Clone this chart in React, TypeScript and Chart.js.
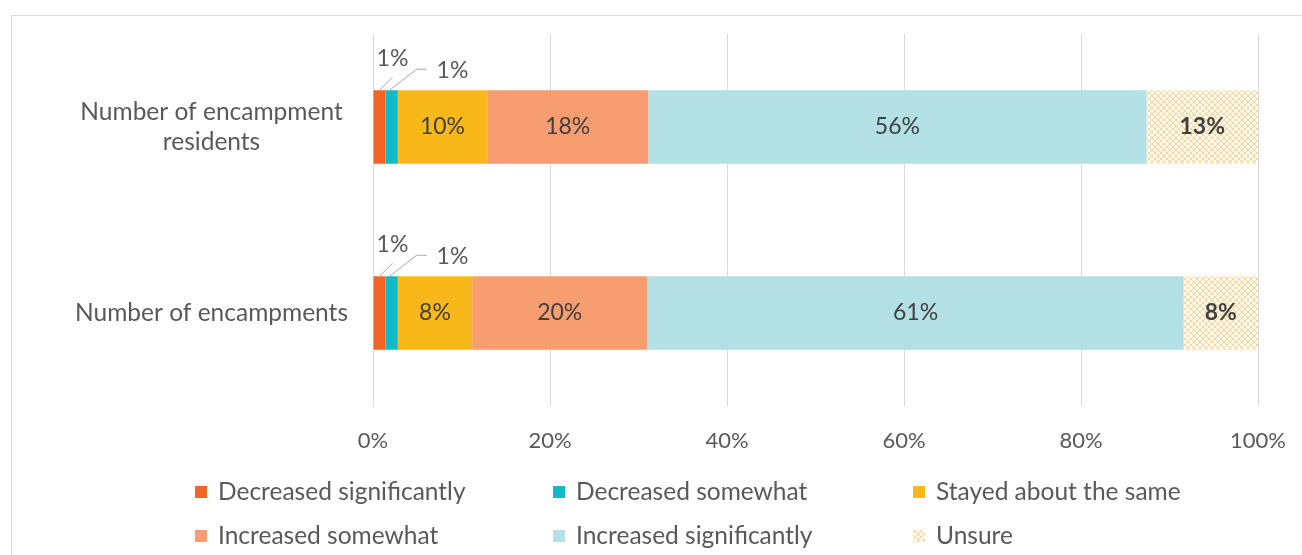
import React, { useEffect, useRef } from "react";
import { Chart, registerables } from "chart.js";

Chart.register(...registerables);

const categories: (string | string[])[] = [["Number of encampment", "residents"], "Number of encampments"];
const seriesNames = [
  "Decreased significantly",
  "Decreased somewhat",
  "Stayed about the same",
  "Increased somewhat",
  "Increased significantly",
  "Unsure",
];
const decreasedSignificantly = [1.4, 1.4];
const decreasedSomewhat = [1.4, 1.4];
const stayedSame = [10.1, 8.4];
const increasedSomewhat = [18.2, 19.8];
const increasedSignificantly = [56.3, 60.6];
const unsure = [12.6, 8.4];
const xTicks = [0, 20, 40, 60, 80, 100];

const FONT = "Lato, 'Open Sans', sans-serif";
const TEXT = "#595959";

function makePattern(): CanvasPattern | string {
  const c = document.createElement("canvas");
  c.width = 6;
  c.height = 6;
  const g = c.getContext("2d");
  if (!g) return "#FCE3B8";
  g.fillStyle = "#FFFAF0";
  g.fillRect(0, 0, 6, 6);
  g.strokeStyle = "#FAD596";
  g.lineWidth = 1;
  g.beginPath();
  g.moveTo(0, 0);
  g.lineTo(6, 6);
  g.moveTo(6, 0);
  g.lineTo(0, 6);
  g.stroke();
  const p = g.createPattern(c, "repeat");
  return p || "#FCE3B8";
}

export default function App() {
  const ref = useRef<HTMLCanvasElement>(null);
  useEffect(() => {
    document.body.style.margin = "0";
    const canvas = ref.current;
    if (!canvas) return;
    const pattern = makePattern();
    const colors: any[] = ["#F26526", "#12B9C7", "#F8B81A", "#F89D6F", "#B2E0E5", pattern];
    const values = [decreasedSignificantly, decreasedSomewhat, stayedSame, increasedSomewhat, increasedSignificantly, unsure];

    const framePlugin = {
      id: "frame",
      beforeDraw(chart: any) {
        const ctx = chart.ctx;
        ctx.save();
        ctx.fillStyle = "#ffffff";
        ctx.fillRect(0, 0, chart.width, chart.height);
        ctx.strokeStyle = "#D9D9D9";
        ctx.lineWidth = 1;
        ctx.strokeRect(11.5, 15.5, 1400, 700);
        ctx.restore();
      },
    };

    const labelPlugin = {
      id: "barLabels",
      afterDatasetsDraw(chart: any) {
        const ctx = chart.ctx;
        ctx.save();
        chart.data.datasets.forEach((ds: any, di: number) => {
          const meta = chart.getDatasetMeta(di);
          meta.data.forEach((el: any, i: number) => {
            const v = ds.data[i];
            const { x, y, base, height } = el.getProps(["x", "y", "base", "height"], true);
            const text = Math.round(v) + "%";
            const bold = di === 5;
            ctx.font = (bold ? "bold " : "") + "23px " + FONT;
            ctx.fillStyle = "#404040";
            ctx.textBaseline = "middle";
            if (v >= 3) {
              ctx.textAlign = "center";
              ctx.fillText(text, (x + base) / 2, y);
            } else {
              const xc = (x + base) / 2;
              const yTop = y - height / 2;
              ctx.strokeStyle = "#A6A6A6";
              ctx.lineWidth = 1;
              ctx.beginPath();
              ctx.fillStyle = TEXT;
              if (di === 0) {
                ctx.moveTo(xc, yTop);
                ctx.lineTo(xc + 13, yTop - 13);
                ctx.stroke();
                ctx.textAlign = "center";
                ctx.fillText(text, xc + 13, yTop - 32);
              } else {
                ctx.moveTo(xc - 2, yTop);
                ctx.lineTo(xc + 25, yTop - 21);
                ctx.lineTo(xc + 35, yTop - 21);
                ctx.stroke();
                ctx.textAlign = "left";
                ctx.fillText(text, xc + 45, yTop - 20);
              }
            }
          });
        });
        ctx.restore();
      },
    };

    const legendPlugin = {
      id: "gridLegend",
      afterDraw(chart: any) {
        const ctx = chart.ctx;
        const cols = [195, 553, 913];
        const rows = [492, 536];
        ctx.save();
        ctx.font = "24.5px " + FONT;
        ctx.textBaseline = "middle";
        ctx.textAlign = "left";
        chart.data.datasets.forEach((ds: any, di: number) => {
          const cx = cols[di % 3];
          const cy = rows[Math.floor(di / 3)];
          ctx.fillStyle = ds.backgroundColor;
          ctx.fillRect(cx, cy - 6, 12, 12);
          ctx.fillStyle = TEXT;
          ctx.fillText(ds.label, cx + 23, cy);
        });
        ctx.restore();
      },
    };

    const chart = new Chart(canvas, {
      type: "bar",
      data: {
        labels: categories as any,
        datasets: seriesNames.map((name, i) => ({
          label: name,
          data: values[i],
          backgroundColor: colors[i],
          borderWidth: 0,
          barPercentage: 0.395,
          categoryPercentage: 1,
        })),
      },
      options: {
        indexAxis: "y",
        responsive: false,
        animation: false,
        devicePixelRatio: 1,
        layout: { padding: { top: 34, right: 44, left: 0, bottom: 0 } },
        plugins: { legend: { display: false }, tooltip: { enabled: false } },
        scales: {
          x: {
            stacked: true,
            min: 0,
            max: 100,
            afterFit(scale: any) {
              scale.height = 149;
              scale.paddingRight = 0;
              scale.paddingLeft = 0;
            },
            afterBuildTicks(scale: any) {
              scale.ticks = xTicks.map((v) => ({ value: v }));
            },
            ticks: {
              callback: (v: any) => v + "%",
              color: TEXT,
              font: { family: FONT, size: 22 },
              padding: 22,
              maxRotation: 0,
            },
            grid: { color: "#D9D9D9", drawTicks: false },
            border: { display: false },
          },
          y: {
            stacked: true,
            afterFit(scale: any) {
              scale.width = 373;
              scale.paddingTop = 0;
              scale.paddingBottom = 0;
            },
            ticks: {
              color: TEXT,
              font: { family: FONT, size: 24.5, lineHeight: 1.22 },
              padding: 25,
              crossAlign: "center",
            },
            grid: { display: false, drawTicks: false },
            border: { display: true, color: "#D9D9D9" },
          },
        },
      },
      plugins: [framePlugin, labelPlugin, legendPlugin],
    } as any);
    return () => chart.destroy();
  }, []);
  return <canvas ref={ref} width={1302} height={555} style={{ display: "block" }} />;
}
